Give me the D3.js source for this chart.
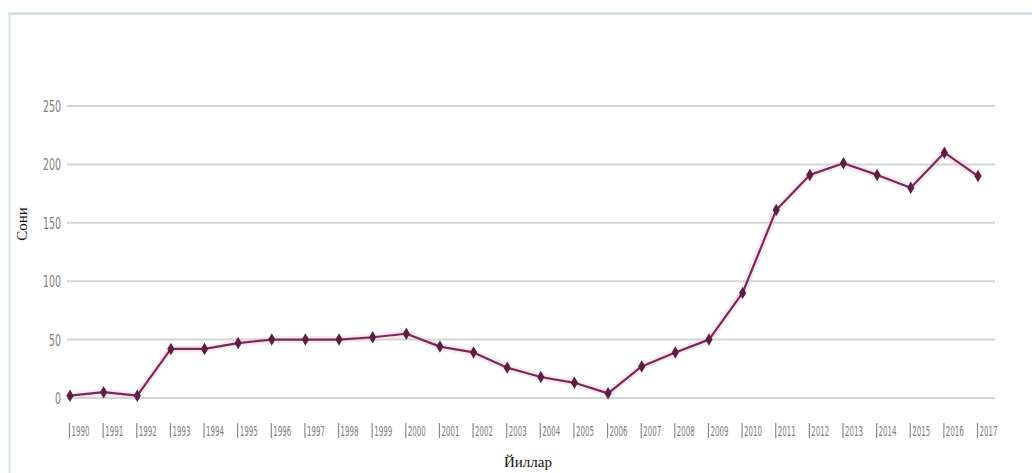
<!DOCTYPE html>
<html>
<head>
<meta charset="utf-8">
<script src="https://cdn.jsdelivr.net/npm/d3@7"></script>
<style>
  html, body { margin: 0; padding: 0; background: #fff; }
  svg { display: block; }
</style>
</head>
<body>
<script>
const years = [1990,1991,1992,1993,1994,1995,1996,1997,1998,1999,2000,2001,2002,2003,
               2004,2005,2006,2007,2008,2009,2010,2011,2012,2013,2014,2015,2016,2017];
const counts = [2,5,2,42,42,47,50,50,50,52,55,44,39,26,
                18,13,4,27,39,50,90,161,191,201,191,180,210,190];
const yTicks = [0,50,100,150,200,250];

const width = 1032, height = 473;

const svg = d3.select('body').append('svg')
      .attr('width', width).attr('height', height);

// frame (top + left edges only)
svg.append('line').attr('x1', 8).attr('x2', width).attr('y1', 13.5).attr('y2', 13.5)
    .style('stroke', '#c3d8dc').style('stroke-width', 2);
svg.append('line').attr('x1', 9.5).attr('x2', 9.5).attr('y1', 13).attr('y2', height)
    .style('stroke', '#d3e6ec').style('stroke-width', 2);

const x = d3.scalePoint()
      .domain(years)
      .range([70, 978]);

const y = d3.scaleLinear()
      .domain([0, 250])
      .range([398, 106]);

// gridlines
svg.append('g').selectAll('line')
    .data(yTicks)
    .join('line')
    .attr('x1', 67).attr('x2', 995)
    .attr('y1', d => y(d)).attr('y2', d => y(d))
    .style('stroke', '#d4d4d4').style('stroke-width', 2);

// y tick labels
svg.append('g').selectAll('text')
    .data(yTicks)
    .join('text')
    .attr('x', 61)
    .attr('y', d => y(d) + 6)
    .attr('text-anchor', 'end')
    .attr('textLength', d => String(d).length * 6)
    .attr('lengthAdjust', 'spacingAndGlyphs')
    .style('font-family', 'DejaVu Sans')
    .style('font-size', '15px')
    .style('fill', '#7d7d7d')
    .text(d => d);

// x tick labels with small bar
const xl = svg.append('g').selectAll('g')
    .data(years)
    .join('g')
    .attr('transform', d => `translate(${x(d)},0)`);

xl.append('line')
    .attr('x1', -0.5).attr('x2', -0.5)
    .attr('y1', 423).attr('y2', 438)
    .style('stroke', '#8a8a8a').style('stroke-width', 1.2);

xl.append('text')
    .attr('x', 1.5).attr('y', 436)
    .attr('textLength', 18)
    .attr('lengthAdjust', 'spacingAndGlyphs')
    .style('font-family', 'DejaVu Sans')
    .style('font-size', '14px')
    .style('fill', '#7d7d7d')
    .text(d => d);

// series
const line = d3.line()
      .x((d, i) => x(years[i]))
      .y(d => y(d));

svg.append('path')
    .datum(counts)
    .attr('d', line)
    .style('fill', 'none')
    .style('stroke', '#f3c9dd')
    .style('stroke-opacity', 0.4)
    .style('stroke-width', 7)
    .style('stroke-linejoin', 'round');

svg.append('path')
    .datum(counts)
    .attr('d', line)
    .style('fill', 'none')
    .style('stroke', '#7a2a58')
    .style('stroke-width', 2.2)
    .style('stroke-linejoin', 'round');

svg.append('g').selectAll('path')
    .data(counts)
    .join('path')
    .attr('transform', (d, i) => `translate(${x(years[i])},${y(d)})`)
    .attr('d', d3.symbol().type(d3.symbolDiamond).size(45))
    .style('fill', '#5e1d44');

// axis titles
svg.append('text')
    .attr('transform', 'translate(27,224) rotate(-90)')
    .attr('text-anchor', 'middle')
    .style('font-family', 'Liberation Serif')
    .style('font-size', '15px')
    .style('fill', '#111')
    .text('Сони');

svg.append('text')
    .attr('x', 528).attr('y', 467)
    .attr('text-anchor', 'middle')
    .style('font-family', 'Liberation Serif')
    .style('font-size', '15px')
    .style('fill', '#111')
    .text('Йиллар');
</script>
</body>
</html>
